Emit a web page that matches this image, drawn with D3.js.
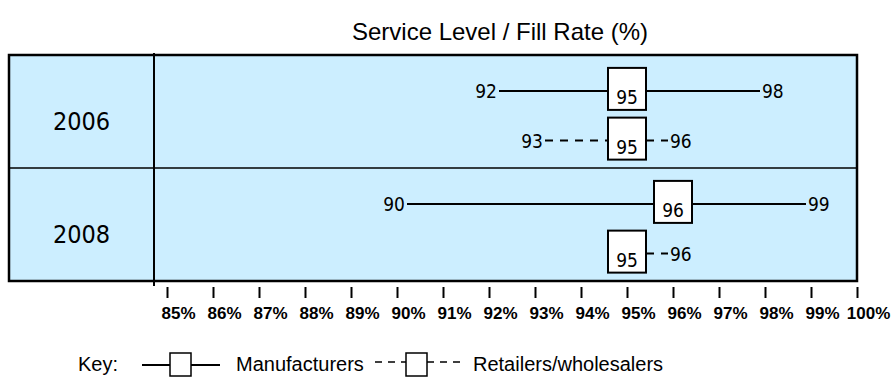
<!DOCTYPE html>
<html>
<head>
<meta charset="utf-8">
<script src="https://cdn.jsdelivr.net/npm/d3@7"></script>
<style>
  html, body { margin: 0; padding: 0; background: #fff; }
  svg { display: block; }
  .num { font-family: "Liberation Sans Narrow", "DejaVu Sans Condensed", "Roboto", sans-serif; }
  .sans { font-family: "Liberation Sans", Arial, sans-serif; }
</style>
</head>
<body>
<svg id="chart" width="893" height="381"></svg>
<script>
// Survey years (one band each)
const years = ["2006", "2008"];
// Respondent groups drawn inside each year band
const groups = ["Manufacturers", "Retailers/wholesalers"];
// Service level range per year: low, typical (boxed), high
const manufacturersLow = [92, 90];
const manufacturersMid = [95, 96];
const manufacturersHigh = [98, 99];
const retailersLow = [93, 95];
const retailersMid = [95, 95];
const retailersHigh = [96, 96];
// Axis ticks (%)
const tickValues = [85, 86, 87, 88, 89, 90, 91, 92, 93, 94, 95, 96, 97, 98, 99, 100];

const frame = { left: 9, right: 857, top: 55, bottom: 281 };
const labelColRight = 154;
const fillBlue = "#cceeff";

const svg = d3.select("#chart");

const x = d3.scaleLinear().domain([85, 100]).range([167, 857]);
const yRow = d3.scaleBand().domain(years).range([frame.top, frame.bottom]);
const yGroup = d3.scalePoint().domain(groups).range([0.3, 0.74]);

// one record per year × group
const rows = [];
years.forEach((yr, i) => {
  rows.push({ year: yr, group: groups[0], lo: manufacturersLow[i], mid: manufacturersMid[i], hi: manufacturersHigh[i] });
  rows.push({ year: yr, group: groups[1], lo: retailersLow[i], mid: retailersMid[i], hi: retailersHigh[i] });
});
const cy = d => yRow(d.year) + yRow.bandwidth() * yGroup(d.group);

// Title
svg.append("text").attr("class", "sans")
  .attr("x", 500).attr("y", 40)
  .attr("text-anchor", "middle")
  .attr("font-size", 24)
  .text("Service Level / Fill Rate (%)");

// Background panel
svg.append("rect")
  .attr("x", frame.left).attr("y", frame.top)
  .attr("width", frame.right - frame.left).attr("height", frame.bottom - frame.top)
  .attr("fill", fillBlue).attr("stroke", "none");

// Year labels
svg.selectAll("text.year").data(years).join("text")
  .attr("class", "year num")
  .attr("x", (frame.left + labelColRight) / 2)
  .attr("y", d => yRow(d) + yRow.bandwidth() / 2 + 18)
  .attr("text-anchor", "middle")
  .attr("font-size", 25)
  .text(d => d);

// Whiskers with end values
const boxW = 38, boxH = 42;
const whisk = svg.append("g");
rows.forEach(d => {
  const yy = cy(d) + 2;
  const dash = d.group === groups[1] ? "8,7" : null;
  if (d.lo < d.mid) {
    whisk.append("line")
      .attr("x1", x(d.lo) + 10).attr("x2", x(d.mid) - boxW / 2)
      .attr("y1", yy).attr("y2", yy)
      .attr("stroke", "#000").attr("stroke-width", 2)
      .attr("stroke-dasharray", dash);
    whisk.append("text").attr("class", "num")
      .attr("x", x(d.lo) + 8).attr("y", yy + 7)
      .attr("text-anchor", "end").attr("font-size", 19)
      .text(d.lo);
  }
  if (d.hi > d.mid) {
    whisk.append("line")
      .attr("x1", x(d.mid) + boxW / 2).attr("x2", x(d.hi) - 5)
      .attr("y1", yy).attr("y2", yy)
      .attr("stroke", "#000").attr("stroke-width", 2)
      .attr("stroke-dasharray", dash);
    whisk.append("text").attr("class", "num")
      .attr("x", x(d.hi) - 3).attr("y", yy + 7)
      .attr("text-anchor", "start").attr("font-size", 19)
      .text(d.hi);
  }
});

// Boxes with typical value
const boxes = svg.selectAll("g.box").data(rows).join("g").attr("class", "box");
boxes.append("rect")
  .attr("x", d => x(d.mid) - boxW / 2)
  .attr("y", d => cy(d) - boxH / 2)
  .attr("width", boxW).attr("height", boxH)
  .attr("fill", "#fff").attr("stroke", "#000").attr("stroke-width", 2);
boxes.append("text").attr("class", "num")
  .attr("x", d => x(d.mid))
  .attr("y", d => cy(d) + boxH / 2 - 6)
  .attr("text-anchor", "middle").attr("font-size", 19)
  .text(d => d.mid);

// Frame, row divider, label column separator
svg.append("rect")
  .attr("x", frame.left).attr("y", frame.top)
  .attr("width", frame.right - frame.left).attr("height", frame.bottom - frame.top)
  .attr("fill", "none").attr("stroke", "#000").attr("stroke-width", 2.5);
svg.append("line")
  .attr("x1", frame.left).attr("x2", frame.right)
  .attr("y1", yRow(years[1])).attr("y2", yRow(years[1]))
  .attr("stroke", "#000").attr("stroke-width", 1.5);
svg.append("line")
  .attr("x1", labelColRight).attr("x2", labelColRight)
  .attr("y1", frame.top - 2).attr("y2", frame.bottom + 5)
  .attr("stroke", "#000").attr("stroke-width", 2);

// Axis
const axis = d3.axisBottom(x).tickValues(tickValues).tickSize(11).tickPadding(0)
  .tickFormat(d => d + "%");
const gAxis = svg.append("g").attr("transform", "translate(0,287)").call(axis);
gAxis.select(".domain").remove();
gAxis.selectAll(".tick line").attr("stroke", "#000").attr("stroke-width", 2);
gAxis.selectAll(".tick text")
  .attr("x", 11).attr("y", 32).attr("dy", null)
  .attr("fill", "#000")
  .attr("font-size", 17).attr("font-weight", "bold")
  .attr("font-family", "Liberation Sans, Arial, sans-serif");

// Key
const key = svg.append("g").attr("class", "sans").attr("font-size", 20);
key.append("text").attr("x", 78).attr("y", 371).text("Key:");
key.append("line").attr("x1", 142).attr("x2", 220).attr("y1", 365).attr("y2", 365)
  .attr("stroke", "#000").attr("stroke-width", 2);
key.append("rect").attr("x", 170).attr("y", 353).attr("width", 21).attr("height", 23)
  .attr("fill", "#fff").attr("stroke", "#000").attr("stroke-width", 1.5);
key.append("text").attr("x", 236).attr("y", 371).text(groups[0]);
key.append("line").attr("x1", 375).attr("x2", 463).attr("y1", 362).attr("y2", 362)
  .attr("stroke", "#000").attr("stroke-width", 1.5).attr("stroke-dasharray", "7,6");
key.append("rect").attr("x", 406).attr("y", 353).attr("width", 21).attr("height", 23)
  .attr("fill", "#fff").attr("stroke", "#000").attr("stroke-width", 1.5);
key.append("text").attr("x", 473).attr("y", 371).text(groups[1]);
</script>
</body>
</html>
